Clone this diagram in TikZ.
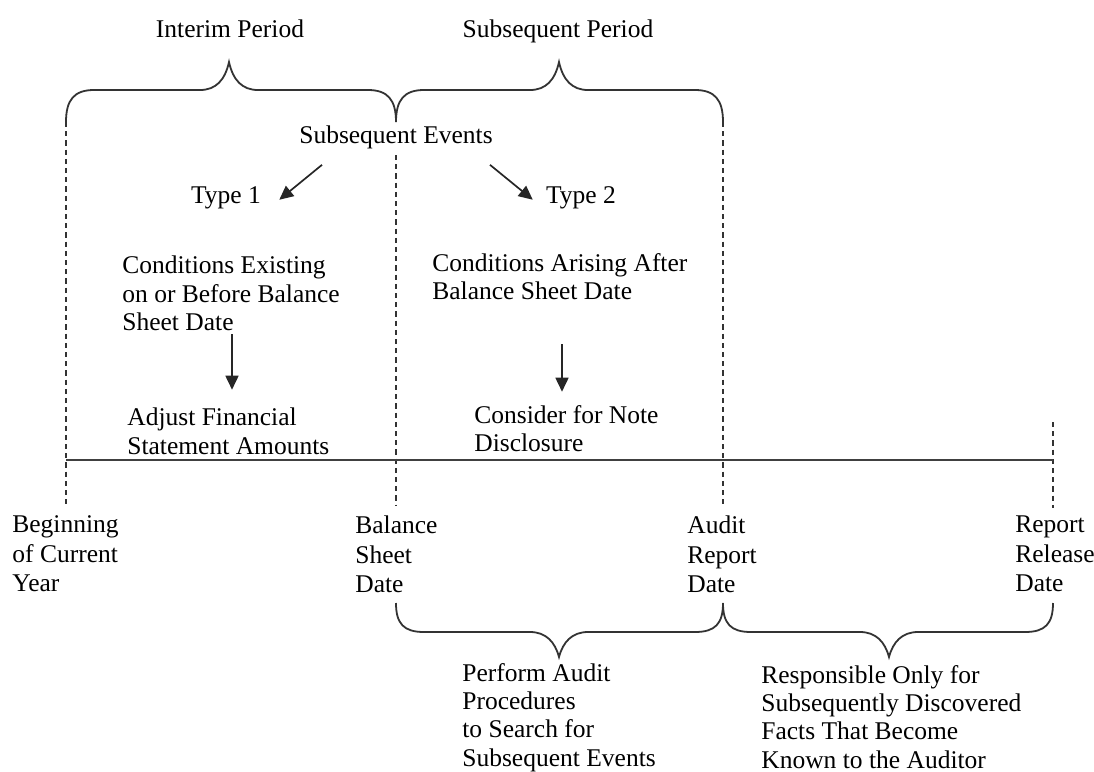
\documentclass[tikz,border=0pt]{standalone}
\usepackage{fontspec}
\setmainfont{Liberation Serif}
\usetikzlibrary{arrows.meta,calc}
\tikzset{
  txt/.style={font=\fontsize{12.75}{14.2}\selectfont, inner sep=0pt, text=black},
  blk/.style={txt, align=left, anchor=north west},
  datelbl/.style={font=\fontsize{12.75}{14.75}\selectfont, inner sep=0pt, align=left, anchor=north west},
  bline/.style={draw=black!80, line width=0.9pt},
  dashline/.style={draw=black!80, line width=0.75pt, dash pattern=on 2.6pt off 2pt},
  arr/.style={draw=black!85, line width=0.85pt, -{Triangle[length=7pt,width=6.5pt]}},
  timeline/.style={draw=black!75, line width=1.4pt},
}
\begin{document}
\begin{tikzpicture}[x=0.5pt,y=-0.5pt]
\useasboundingbox (0,0) rectangle (1094,772);

% period labels
\node[txt, anchor=base] (interim) at (230,37) {Interim Period};
\node[txt, anchor=base] (subp) at (558,37) {Subsequent Period};

% top braces
\draw[bline] (66,122) .. controls (66,100) and (74,90) .. (94,90) -- (200,90)
  .. controls (216,90) and (225,80) .. (229,62) .. controls (233,80) and (242,90) .. (258,90)
  -- (368,90) .. controls (388,90) and (396,100) .. (396,122);
\draw[bline] (396,122) .. controls (396,100) and (404,90) .. (424,90) -- (530,90)
  .. controls (546,90) and (555,80) .. (559,62) .. controls (563,80) and (572,90) .. (588,90)
  -- (695,90) .. controls (715,90) and (723,100) .. (723,122);

% subsequent events
\node[txt, anchor=base] (se) at (396,143) {Subsequent Events};
\node[txt, anchor=base] (t1) at (226,203) {Type 1};
\node[txt, anchor=base] (t2) at (581,203) {Type 2};
\draw[arr] ($(se.south)+(-74,16)$) -- ($(t1.north east)+(18,14)$);
\draw[arr] ($(se.south)+(94,16)$) -- ($(t2.north west)+(-13,14)$);

% condition blocks
\node[blk] (c1) at (122,255.7) {Conditions Existing\\on or Before Balance\\Sheet Date};
\node[blk] (adj) at (127,407.7) {Adjust Financial\\Statement Amounts};
\node[blk] (c2) at (432,252.7) {Conditions Arising After\\Balance Sheet Date};
\node[blk] (cons) at (474,404.7) {Consider for Note\\Disclosure};

\coordinate (x1) at (232,0);
\coordinate (x2) at (562,0);
\draw[arr, shorten <=1.5pt, shorten >=9pt] (c1.south -| x1) -- (adj.north -| x1);
\draw[arr, shorten <=22pt, shorten >=6.5pt] (c2.south -| x2) -- (cons.north -| x2);

% timeline and dashed markers
\coordinate (p0) at (66,460);
\coordinate (p1) at (396,460);
\coordinate (p2) at (723,460);
\coordinate (p3) at (1053,460);
\draw[dashline] (66,122) -- (66,505);
\draw[dashline] (396,155) -- (396,505);
\draw[dashline] (723,122) -- (723,505);
\draw[dashline] (1053,422) -- (1053,508);
\draw[timeline] (p0) -- (p3);

% date labels
\node[datelbl] (beg) at (12,515.7) {Beginning\\of Current\\Year};
\node[datelbl] (bal) at (355,515.7) {Balance\\Sheet\\Date};
\node[datelbl] (aud) at (687,515.7) {Audit\\Report\\Date};
\node[datelbl] (rel) at (1015,515.7) {Report\\Release\\Date};

% bottom braces
\draw[bline] (396,603) .. controls (396,624) and (404,632) .. (424,632) -- (530,632)
  .. controls (546,632) and (555,642) .. (559,657) .. controls (563,642) and (572,632) .. (588,632)
  -- (695,632) .. controls (715,632) and (723,624) .. (723,603);
\draw[bline] (723,603) .. controls (723,624) and (731,632) .. (751,632) -- (860,632)
  .. controls (876,632) and (885,642) .. (889,657) .. controls (893,642) and (902,632) .. (918,632)
  -- (1025,632) .. controls (1045,632) and (1053,624) .. (1053,603);

\node[blk] (perf) at (462,662.7) {Perform Audit\\Procedures\\to Search for\\Subsequent Events};
\node[blk] (resp) at (761,664.7) {Responsible Only for\\Subsequently Discovered\\Facts That Become\\Known to the Auditor};
\end{tikzpicture}
\end{document}
